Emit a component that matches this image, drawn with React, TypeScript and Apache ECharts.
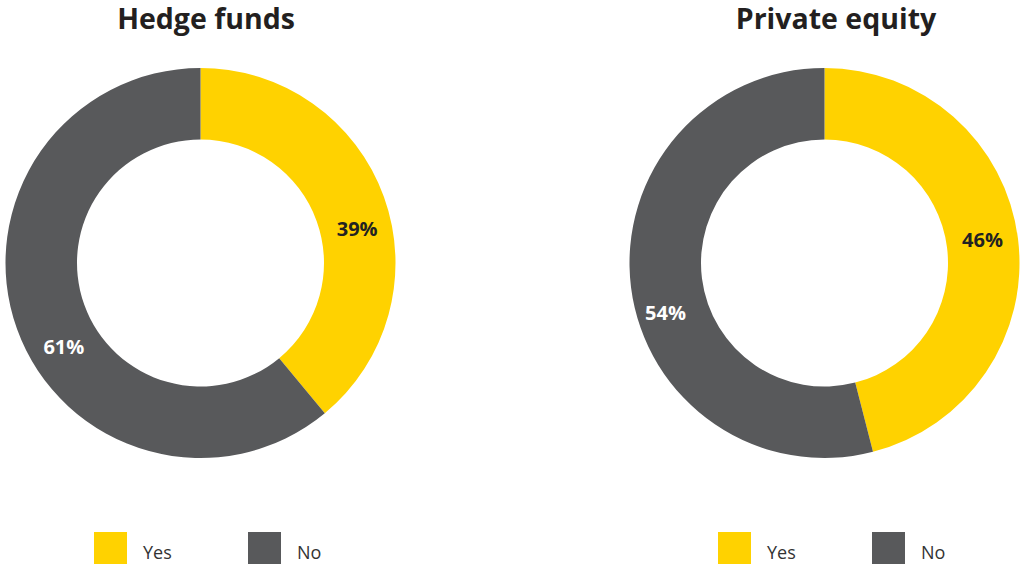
import React, { useEffect, useRef } from "react";
import * as echarts from "echarts";

const categories = ["Yes", "No"];
const hedgeFunds = [39, 61];
const privateEquity = [46, 54];
const chartTitles = ["Hedge funds", "Private equity"];

const YELLOW = "#FFD200";
const GREY = "#58595B";

export default function App() {
  const ref = useRef<HTMLDivElement>(null);
  useEffect(() => {
    if (!ref.current) return;
    const chart = echarts.init(ref.current, null, { renderer: "svg" });
    const colors = [YELLOW, GREY];
    const labelColors = ["#222222", "#ffffff"];
    const makeData = (vals: number[], offsets: number[][]) =>
      vals.map((v, i) => ({
        name: categories[i],
        value: v,
        itemStyle: { color: colors[i] },
        label: { color: labelColors[i], offset: offsets[i] },
      }));
    const labelFont = {
      show: true,
      position: "inside",
      formatter: "{c}%",
      fontFamily: "Open Sans",
      fontWeight: "bold",
      fontSize: 20,
    };
    const legendBase = {
      orient: "horizontal",
      top: 532,
      padding: 0,
      icon: "rect",
      itemWidth: 33,
      itemHeight: 32,
      selectedMode: false,
      formatter: "{t|{name}}",
      textStyle: {
        rich: {
          t: {
            fontFamily: "Open Sans",
            fontSize: 18,
            color: "#333333",
            padding: [8, 0, 0, 11],
          },
        },
      },
    };
    const titleStyle = { fontFamily: "Open Sans", fontWeight: "bold", fontSize: 28.5, color: "#231F20" };
    chart.setOption({
      animation: false,
      title: [
        { text: chartTitles[0], left: 201, top: -2, textAlign: "center", textStyle: titleStyle },
        { text: chartTitles[1], left: 831, top: -2, textAlign: "center", textStyle: titleStyle },
      ],
      legend: [
        { ...legendBase, left: 94, data: [categories[0]] },
        { ...legendBase, left: 248, data: [categories[1]] },
        { ...legendBase, left: 718, data: [categories[0]] },
        { ...legendBase, left: 872, data: [categories[1]] },
      ],
      series: [
        {
          type: "pie",
          name: chartTitles[0],
          center: [200.5, 263],
          radius: [123.5, 195],
          startAngle: 90,
          clockwise: true,
          label: labelFont,
          labelLine: { show: false },
          emphasis: { disabled: true },
          data: makeData(hedgeFunds, [[4, 20], [16, 29]]),
        },
        {
          type: "pie",
          name: chartTitles[1],
          center: [824.5, 263],
          radius: [123.5, 195],
          startAngle: 90,
          clockwise: true,
          label: labelFont,
          labelLine: { show: false },
          emphasis: { disabled: true },
          data: makeData(privateEquity, [[-3, -3], [2, 29]]),
        },
      ],
    });
    return () => chart.dispose();
  }, []);
  return (
    <div
      ref={ref}
      style={{ position: "absolute", left: 0, top: 0, width: 1022, height: 568, background: "#fff" }}
    />
  );
}
